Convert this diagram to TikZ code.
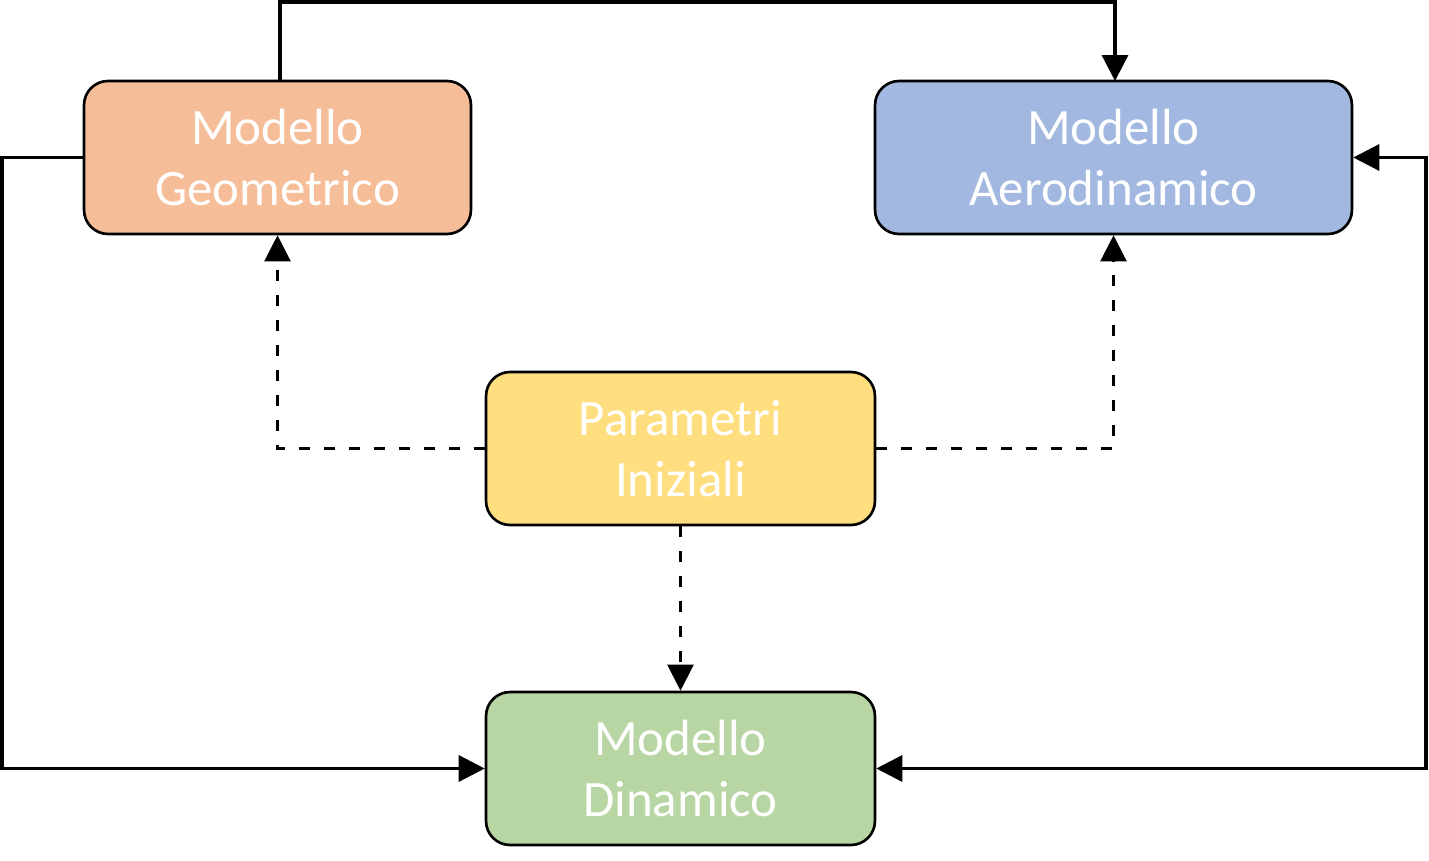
\documentclass[tikz,border=0pt]{standalone}
\usepackage{fontspec}
\setmainfont{Carlito}
\usetikzlibrary{arrows.meta,calc}
\definecolor{cgeo}{HTML}{F5BE98}
\definecolor{caero}{HTML}{A2B8E0}
\definecolor{cpar}{HTML}{FFDE80}
\definecolor{cdin}{HTML}{B8D5A4}
\tikzset{
  block/.style={draw=black, line width=1.5pt, rounded corners=0.48cm, minimum height=3.06cm,
    align=center, text=white, font=\fontsize{29}{35}\selectfont, inner sep=0pt},
  solidconn/.style={line width=1.9pt, -{Triangle[length=0.52cm,width=0.52cm]}},
  dashconn/.style={line width=1.3pt, dash pattern=on 0.22cm off 0.28cm, -{Triangle[length=0.52cm,width=0.52cm]}},
  bothconn/.style={line width=1.9pt, {Triangle[length=0.52cm,width=0.52cm]}-{Triangle[length=0.52cm,width=0.52cm]}}
}
\begin{document}
\begin{tikzpicture}[x=0.02cm,y=-0.02cm]
\useasboundingbox (0,0) rectangle (1429,861);
\node[block, fill=cgeo, minimum width=7.74cm] (geo) at (277.5,157.5) {Modello\\Geometrico};
\node[block, fill=caero, minimum width=9.54cm] (aero) at (1113.5,157.5) {Modello\\Aerodinamico};
\node[block, fill=cpar, minimum width=7.78cm] (par) at (680.5,448.5) {Parametri\\Iniziali};
\node[block, fill=cdin, minimum width=7.78cm] (din) at (680.5,768.5) {Modello\\Dinamico};
\coordinate (g0) at (280,81);
\coordinate (a0) at (1115,81);
\draw[solidconn] (g0) -- (280,2) -- (1115,2) -- (a0);
\draw[solidconn] (geo.west) -- (2,157.5) -- (2,768.5) -- (din.west);
\draw[bothconn] (din.east) -- (1426,768.5) -- (1426,157.5) -- (aero.east);
\draw[dashconn] (par.west) -- (277.5,448.5) -- (geo.south);
\draw[dashconn] (par.east) -- (1113.5,448.5) -- (aero.south);
\draw[dashconn] (par.south) -- (din.north);
\end{tikzpicture}
\end{document}
